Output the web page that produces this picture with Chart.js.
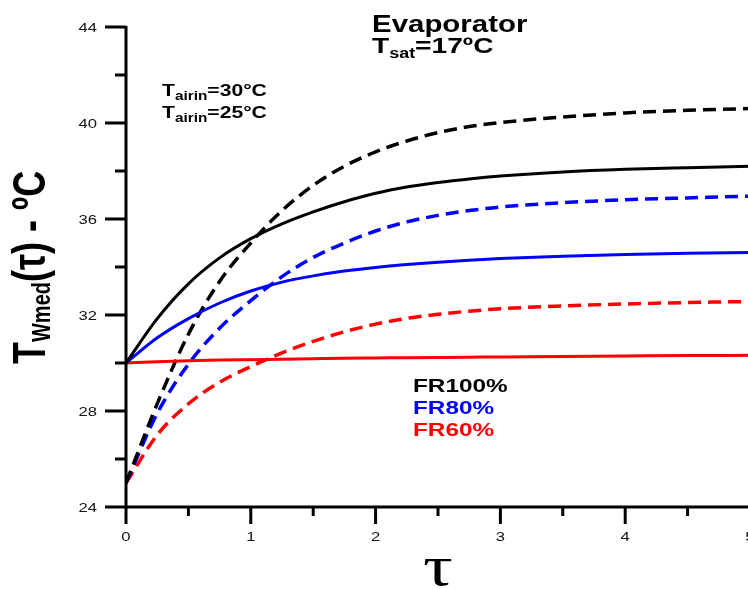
<!DOCTYPE html>
<html>
<head>
<meta charset="utf-8">
<script src="https://cdn.jsdelivr.net/npm/chart.js@4/dist/chart.umd.min.js"></script>
<style>
  html, body { margin: 0; padding: 0; background: #fff; overflow: hidden; }
  #wrap { width: 770px; height: 589px; }
</style>
</head>
<body>
<div id="wrap"><canvas id="chart" width="770" height="589"></canvas></div>
<script>
// dimensionless time
const tau = [0, 0.25, 0.5, 0.75, 1, 1.25, 1.5, 1.75, 2, 2.25, 2.5, 2.75, 3, 3.5, 4, 4.5, 5];

// Tairin = 30 C (solid)
const fr100Air30 = [30, 31.85, 33.3, 34.38, 35.18, 35.8, 36.3, 36.72, 37.07, 37.33, 37.52, 37.67, 37.79, 37.96, 38.07, 38.14, 38.2];
const fr80Air30  = [30, 31.05, 31.85, 32.5, 33.0, 33.37, 33.63, 33.83, 33.98, 34.1, 34.2, 34.28, 34.35, 34.45, 34.52, 34.57, 34.6];
const fr60Air30  = [30, 30.05, 30.09, 30.12, 30.14, 30.16, 30.18, 30.2, 30.21, 30.22, 30.23, 30.24, 30.25, 30.27, 30.29, 30.31, 30.32];

// Tairin = 25 C (dashed)
const fr100Air25 = [25, 28.3, 31.2, 33.4, 35.0, 36.35, 37.4, 38.2, 38.8, 39.25, 39.6, 39.85, 40.02, 40.25, 40.42, 40.53, 40.6];
const fr80Air25  = [25, 27.9, 29.95, 31.45, 32.6, 33.6, 34.4, 35.0, 35.5, 35.88, 36.15, 36.35, 36.5, 36.68, 36.8, 36.88, 36.95];
const fr60Air25  = [25, 27.0, 28.3, 29.2, 29.85, 30.42, 30.9, 31.3, 31.62, 31.86, 32.03, 32.16, 32.26, 32.38, 32.46, 32.52, 32.56];

const yMajor = [24, 28, 32, 36, 40, 44];
const yMinor = [26, 30, 34, 38, 42];
const xMajor = [0, 1, 2, 3, 4, 5];
const xMinor = [0.5, 1.5, 2.5, 3.5, 4.5];

const SX = 1.28; // the original figure is stretched sideways
const FONT = '"Liberation Sans", Arial, sans-serif';

function pts(ys) {
    return tau.map((t, i) => ({ x: t, y: ys[i] }));
}

function series(label, ys, color, dashed) {
    return {
        label: label,
        data: pts(ys),
        borderColor: color,
        borderWidth: dashed ? 3.5 : 3,
        borderDash: dashed ? [13, 7] : [],
        pointRadius: 0,
        fill: false,
        cubicInterpolationMode: 'monotone'
    };
}

// text made of runs: [text, size, dy]
function runs(ctx, x, y, parts, color, rotate) {
    ctx.save();
    ctx.translate(x, y);
    if (rotate) {
        ctx.rotate(-Math.PI / 2);
        ctx.scale(1, SX);
    } else {
        ctx.scale(SX, 1);
    }
    ctx.fillStyle = color;
    ctx.textBaseline = 'alphabetic';
    ctx.textAlign = 'left';
    let cx = 0;
    parts.forEach(([t, size, dy]) => {
        ctx.font = 'bold ' + size + 'px ' + FONT;
        ctx.fillText(t, cx, dy || 0);
        cx += ctx.measureText(t).width;
    });
    ctx.restore();
}

function label(ctx, text, x, y, font, align) {
    ctx.save();
    ctx.translate(x, y);
    ctx.scale(SX, 1);
    ctx.font = font;
    ctx.fillStyle = '#111';
    ctx.textAlign = align;
    ctx.textBaseline = 'middle';
    ctx.fillText(text, 0, 0);
    ctx.restore();
}

const axesPlugin = {
    id: 'axes',
    afterDraw(chart) {
        const ctx = chart.ctx;
        const xs = chart.scales.x, ys = chart.scales.y;
        const left = xs.getPixelForValue(0), bottom = ys.getPixelForValue(24);
        const top = ys.getPixelForValue(44), right = chart.width;

        ctx.save();
        ctx.strokeStyle = '#000';
        ctx.lineWidth = 3;
        ctx.lineCap = 'butt';
        ctx.beginPath();
        ctx.moveTo(left, top - 1); ctx.lineTo(left, bottom + 1.5);
        ctx.moveTo(left - 1.5, bottom); ctx.lineTo(right, bottom);
        yMajor.forEach(v => { const p = ys.getPixelForValue(v); ctx.moveTo(left - 21, p); ctx.lineTo(left, p); });
        yMinor.forEach(v => { const p = ys.getPixelForValue(v); ctx.moveTo(left - 11, p); ctx.lineTo(left, p); });
        xMajor.forEach(v => { const p = xs.getPixelForValue(v); ctx.moveTo(p, bottom); ctx.lineTo(p, bottom + 17); });
        xMinor.forEach(v => { const p = xs.getPixelForValue(v); ctx.moveTo(p, bottom); ctx.lineTo(p, bottom + 9); });
        ctx.stroke();
        ctx.restore();

        const tickFont = '13px ' + FONT;
        yMajor.forEach(v => label(ctx, String(v), left - 29, ys.getPixelForValue(v) + 1, tickFont, 'right'));
        xMajor.forEach(v => label(ctx, String(v), xs.getPixelForValue(v), bottom + 30, tickFont, 'center'));

        // axis titles
        ctx.save();
        ctx.translate(438, 574);
        ctx.scale(SX, 1);
        ctx.font = '58px "Liberation Serif", "Times New Roman", serif';
        ctx.fillStyle = '#000';
        ctx.textAlign = 'center';
        ctx.textBaseline = 'middle';
        ctx.fillText('\u03C4', 0, -4);
        ctx.restore();

        runs(ctx, 45, 364, [['T', 36], ['Wmed', 20, 4], ['(\u03C4) - \u00BAC', 36]], '#000', true);

        // annotations
        runs(ctx, 372, 32, [['Evaporator', 23]], '#000');
        runs(ctx, 372, 53, [['T', 22], ['sat', 14, 5], ['=17\u00BAC', 22]], '#000');
        runs(ctx, 162, 96, [['T', 16.5], ['airin', 12, 4], ['=30\u00B0C', 16.5]], '#000');
        runs(ctx, 162, 118, [['T', 16.5], ['airin', 12, 4], ['=25\u00B0C', 16.5]], '#000');
        runs(ctx, 413, 392, [['FR100%', 19]], '#000');
        runs(ctx, 413, 414, [['FR80%', 19]], '#0000ff');
        runs(ctx, 413, 436, [['FR60%', 19]], '#ff0000');
    }
};

new Chart(document.getElementById('chart').getContext('2d'), {
    type: 'line',
    data: {
        datasets: [
            series('FR100% Tairin=30', fr100Air30, '#000000', false),
            series('FR80% Tairin=30', fr80Air30, '#0000ff', false),
            series('FR60% Tairin=30', fr60Air30, '#ff0000', false),
            series('FR100% Tairin=25', fr100Air25, '#000000', true),
            series('FR80% Tairin=25', fr80Air25, '#0000ff', true),
            series('FR60% Tairin=25', fr60Air25, '#ff0000', true)
        ]
    },
    options: {
        responsive: false,
        animation: false,
        devicePixelRatio: 1,
        layout: { padding: { left: 126, right: 20, top: 27, bottom: 82 } },
        plugins: { legend: { display: false }, tooltip: { enabled: false } },
        scales: {
            x: { type: 'linear', min: 0, max: 5, display: false },
            y: { type: 'linear', min: 24, max: 44, display: false }
        }
    },
    plugins: [axesPlugin]
});
</script>
</body>
</html>
